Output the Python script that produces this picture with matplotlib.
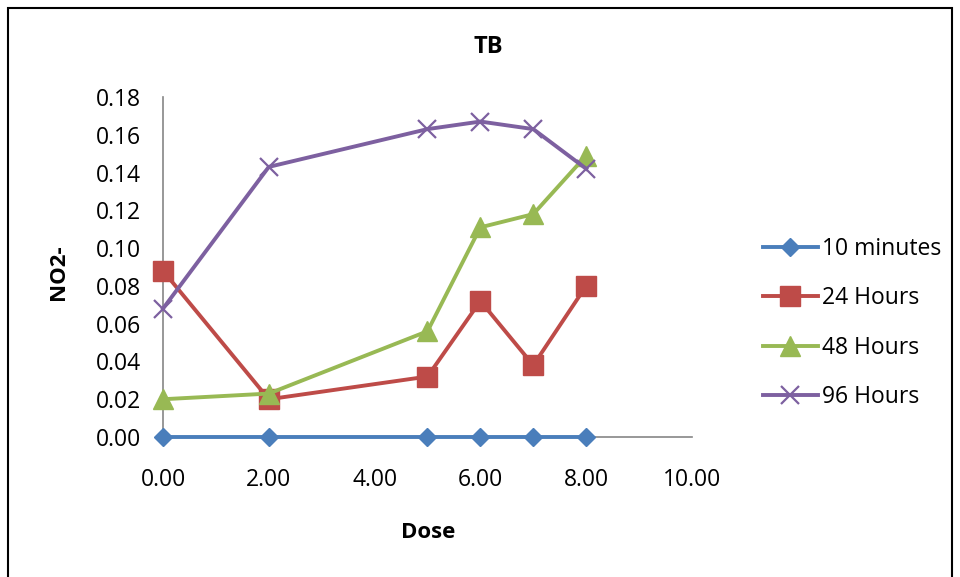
import matplotlib.pyplot as plt
from matplotlib.patches import Rectangle

# data
dose = [0, 2, 5, 6, 7, 8]
min10 = [0, 0, 0, 0, 0, 0]
hr24 = [0.088, 0.020, 0.032, 0.072, 0.038, 0.080]
hr48 = [0.020, 0.023, 0.056, 0.111, 0.118, 0.149]
hr96 = [0.068, 0.143, 0.163, 0.167, 0.163, 0.142]

plt.rcParams['font.family'] = ['Open Sans', 'DejaVu Sans']

fig = plt.figure(figsize=(9.6, 5.77), dpi=100)
ax = fig.add_axes([0.1698, 0.2426, 0.551, 0.5893])

# outer chart border
fig.patches.append(Rectangle((8 / 960, -0.05), 944 / 960, 1.05 - 8 / 577,
                             transform=fig.transFigure, fill=False,
                             edgecolor='black', linewidth=1.5))

ax.plot(dose, min10, color='#4A7EBB', lw=2.8, marker='D', ms=9.5,
        label='10 minutes', clip_on=False, zorder=3)
ax.plot(dose, hr24, color='#BE4B48', lw=2.8, marker='s', ms=14,
        label='24 Hours', clip_on=False, zorder=3)
ax.plot(dose, hr48, color='#98B954', lw=2.8, marker='^', ms=14,
        label='48 Hours', clip_on=False, zorder=3)
ax.plot(dose, hr96, color='#7D60A0', lw=2.8, marker='x', ms=13, mew=1.6,
        label='96 Hours', clip_on=False, zorder=3)

ax.set_xlim(0, 10)
ax.set_ylim(0, 0.18)
ax.set_xticks([0, 2, 4, 6, 8, 10])
ax.set_xticklabels([f'{v:.2f}' for v in [0, 2, 4, 6, 8, 10]])
ax.set_yticks([i * 0.02 for i in range(10)])
ax.set_yticklabels([f'{i * 0.02:.2f}' for i in range(10)])
ax.tick_params(length=0, labelsize=16.5)
ax.tick_params(axis='x', pad=22)
ax.tick_params(axis='y', pad=16)

for s in ['top', 'right']:
    ax.spines[s].set_visible(False)
for s in ['left', 'bottom']:
    ax.spines[s].set_color('#868686')
    ax.spines[s].set_linewidth(1.2)

fig.text(488 / 960, 1 - 47 / 577, 'TB', ha='center', va='center',
         fontsize=17, fontweight='bold')
fig.text(428 / 960, 1 - 533 / 577, 'Dose', ha='center', va='center',
         fontsize=16, fontweight='bold')
fig.text(58 / 960, 1 - 272 / 577, 'NO2-', ha='center', va='center',
         fontsize=16, fontweight='bold', rotation=90)

ax.legend(loc='center left', bbox_to_anchor=(742 / 960, 1 - 323 / 577),
          bbox_transform=fig.transFigure, frameon=False, fontsize=16.5,
          handlelength=2.4, labelspacing=1.1, handletextpad=0.2,
          borderpad=0.4)

fig.savefig('out.png', dpi=100)
